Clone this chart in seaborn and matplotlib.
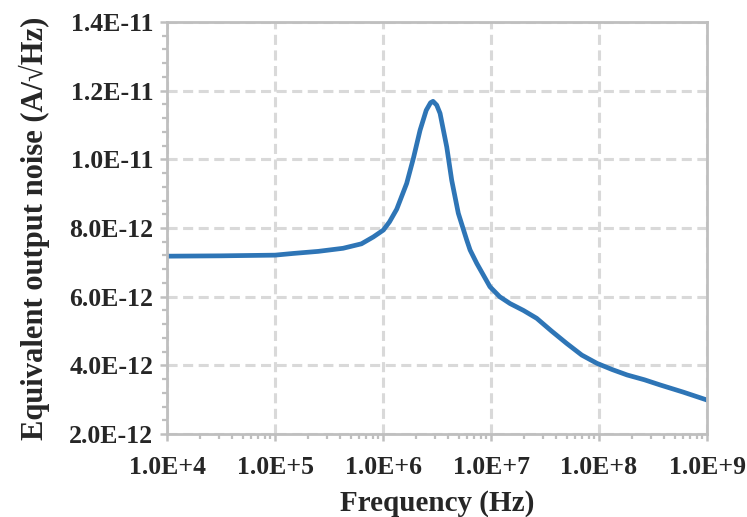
import matplotlib
matplotlib.use("Agg")
import matplotlib.pyplot as plt
import matplotlib.ticker as mticker
import numpy as np
import pandas as pd
import seaborn as sns

# Noise spectrum samples: log10(frequency) and noise in units of 1e-12 A/sqrt(Hz)
log_freq = [4.0, 4.5, 5.0, 5.17, 5.4, 5.63, 5.8, 5.91, 6.003, 6.06, 6.127,
            6.219, 6.281, 6.343, 6.40, 6.44, 6.463, 6.497, 6.528, 6.59, 6.636,
            6.697, 6.775, 6.806, 6.868, 6.99, 7.08, 7.176, 7.30, 7.423, 7.56,
            7.70, 7.84, 7.98, 8.12, 8.26, 8.42, 8.565, 8.78, 9.0]
noise_e12 = [7.18, 7.19, 7.21, 7.26, 7.32, 7.41, 7.54, 7.74, 7.94, 8.18, 8.55,
             9.30, 10.03, 10.85, 11.43, 11.65, 11.69, 11.58, 11.34, 10.36, 9.39,
             8.43, 7.65, 7.36, 6.97, 6.29, 6.00, 5.80, 5.60, 5.37, 5.00,
             4.64, 4.30, 4.06, 3.88, 3.72, 3.58, 3.43, 3.22, 2.99]

x_ticks = [1e4, 1e5, 1e6, 1e7, 1e8, 1e9]
x_tick_labels = ["1.0E+4", "1.0E+5", "1.0E+6", "1.0E+7", "1.0E+8", "1.0E+9"]
y_ticks = [2e-12, 4e-12, 6e-12, 8e-12, 1e-11, 1.2e-11, 1.4e-11]
y_tick_labels = ["2.0E-12", "4.0E-12", "6.0E-12", "8.0E-12", "1.0E-11", "1.2E-11", "1.4E-11"]

df = pd.DataFrame({
    "freq": np.power(10.0, log_freq),
    "noise": np.array(noise_e12) * 1e-12,
})

sns.set_style("white")
plt.rcParams["font.family"] = ["Liberation Serif", "DejaVu Serif"]
plt.rcParams["font.weight"] = "bold"

fig = plt.figure(figsize=(7.47, 5.17), dpi=100)
ax = fig.add_axes([0.2236, 0.1605, 0.7229, 0.7969])

sns.lineplot(data=df, x="freq", y="noise", ax=ax, color="#2E75B6", linewidth=3.4)

ax.set_xscale("log")
ax.set_xlim(1e4, 1e9)
ax.set_ylim(2e-12, 1.4e-11)

ax.set_xticks(x_ticks)
ax.set_xticklabels(x_tick_labels)
ax.set_yticks(y_ticks)
ax.set_yticklabels(y_tick_labels)
ax.xaxis.set_minor_locator(mticker.LogLocator(base=10, subs=np.arange(2, 10)))
ax.xaxis.set_minor_formatter(mticker.NullFormatter())
ax.yaxis.set_minor_locator(mticker.MultipleLocator(0.4e-12))

ax.grid(True, which="major", color="#D9D9D9", linestyle=(0, (3.3, 1.8)), linewidth=2.2)
ax.set_axisbelow(True)

for sp in ax.spines.values():
    sp.set_visible(True)
    sp.set_color("#BFBFBF")
    sp.set_linewidth(2.0)

ax.tick_params(axis="both", which="major", direction="out", length=5, width=1.8,
               color="#BFBFBF", labelsize=18.5, bottom=True, left=True)
ax.tick_params(axis="x", which="major", pad=11)
ax.tick_params(axis="y", which="major", pad=5)
ax.tick_params(axis="both", which="minor", direction="out", length=3.5, width=1.6,
               color="#BFBFBF", bottom=True, left=True)
for lab in ax.get_xticklabels() + ax.get_yticklabels():
    lab.set_fontweight("bold")

ax.set_xlabel("Frequency (Hz)", fontsize=21, fontweight="bold", labelpad=8)
ax.set_ylabel("Equivalent output noise (A/\u221AHz)", fontsize=22, fontweight="bold", labelpad=14)

fig.savefig("out.png", dpi=100)
